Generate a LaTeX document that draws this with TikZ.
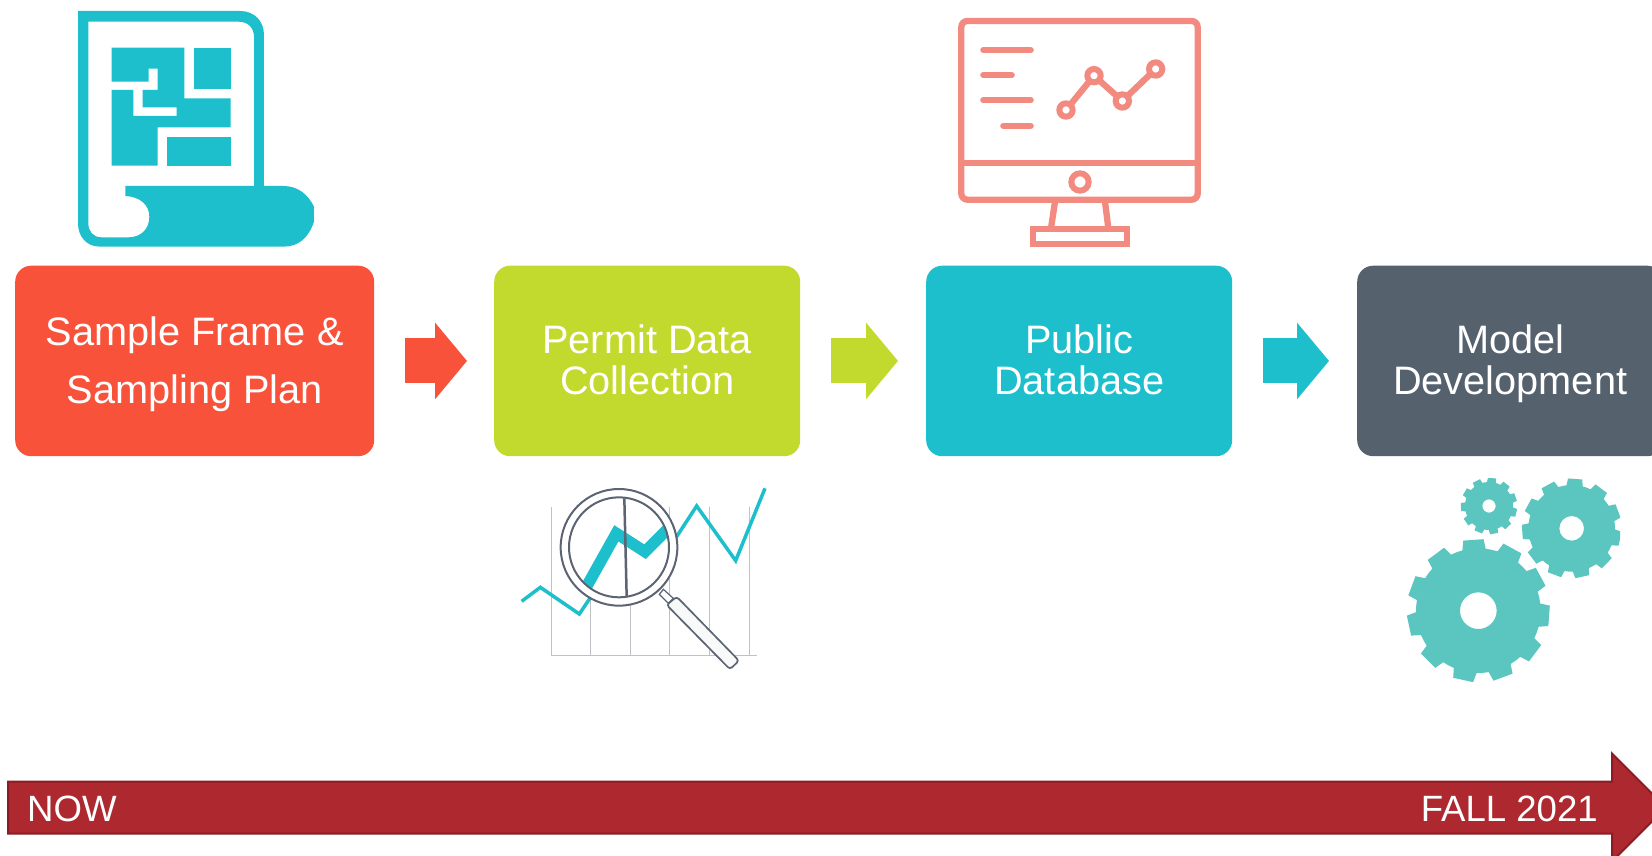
\documentclass[tikz,border=0pt]{standalone}
\usepackage{fontspec}
\setmainfont{Liberation Sans}
\usetikzlibrary{arrows.meta,calc}
\definecolor{cRed}{HTML}{F9523A}
\definecolor{cGreen}{HTML}{C2DA2E}
\definecolor{cTeal}{HTML}{1DBFCC}
\definecolor{cDark}{HTML}{56616E}
\definecolor{cSalmon}{HTML}{F28A80}
\definecolor{cGear}{HTML}{5BC6BF}
\definecolor{cBar}{HTML}{AE2830}
\definecolor{cBarEdge}{HTML}{8B1C24}
\definecolor{cGrid}{HTML}{BFC3C8}
\definecolor{cLens}{HTML}{5B6472}
\newcommand{\hiStrut}{\rule{0pt}{37pt}}
\newcommand{\loStrut}{\rule[-10pt]{0pt}{10pt}}
\tikzset{
  stage/.style={rounded corners=16pt,inner sep=0pt,minimum height=190.5pt,
    text=white,align=center,anchor=north west},
  flow/.style={line width=45pt,-{Triangle[length=32pt,width=75pt]},shorten <=31pt,shorten >=28pt},
  barlabel/.style={text=white,inner sep=0pt,font=\fontsize{36.6}{40}\selectfont},
  icon/.style={x=0.33333pt,y=-0.33333pt},
  mon/.style={draw=cSalmon,line width=6.3pt,line cap=round},
}
\begin{document}
\begin{tikzpicture}[x=1pt,y=-1pt]
\useasboundingbox (0,0) rectangle (1652,856);
\fill[white] (0,0) rectangle (1652,856);
\begin{scope}
\clip (0,0) rectangle (1652,856);
% stage boxes
\node[stage,fill=cRed,minimum width=359pt,font=\fontsize{39.7}{58}\selectfont] (a) at (15,265.5) {\hiStrut Sample Frame \&\\Sampling Plan\loStrut};
\node[stage,fill=cGreen,minimum width=306pt,font=\fontsize{39.7}{41}\selectfont] (b) at (494,265.5) {\hiStrut Permit Data\\Collection\loStrut};
\node[stage,fill=cTeal,minimum width=306pt,font=\fontsize{39.7}{41}\selectfont] (c) at (926,265.5) {\hiStrut Public\\Database\loStrut};
\node[stage,fill=cDark,minimum width=306pt,font=\fontsize{39.7}{41}\selectfont] (d) at (1357,265.5) {\hiStrut Model\\Development\loStrut};
% block arrows
\draw[flow,cRed,shorten >=27pt] (a.east) -- (b.west);
\draw[flow,cGreen] (b.east) -- (c.west);
\draw[flow,cTeal] (c.east) -- (d.west);
% timeline
\draw[fill=cBar,draw=cBarEdge,line width=2pt] (8,781.5) -- (1612,781.5) -- (1612,753.5) -- (1666,807.5) -- (1612,861.5) -- (1612,833.5) -- (8,833.5) -- cycle;
\node[barlabel,anchor=west] (now) at (27,809) {NOW};
\node[barlabel,anchor=east] (fall) at (1598,809) {FALL 2021};
% document icon
\begin{scope}[icon,shift={(60pt,0pt)}]
\fill[cTeal,even odd rule]
 (54,33) -- (540,33) .. controls (585,33) and (612,65) .. (612,105) -- (612,558) -- (670,558)
 .. controls (715,558) and (745,585) .. (762,620) -- (762,665) .. controls (745,715) and (715,740) .. (670,740)
 -- (120,740) .. controls (80,740) and (54,710) .. (54,670) -- cycle
 (85,65) -- (535,65) .. controls (565,65) and (582,85) .. (582,110) -- (582,558) -- (196,558) -- (196,588)
 .. controls (240,590) and (268,615) .. (268,650) .. controls (268,690) and (240,712) .. (205,712)
 -- (125,712) .. controls (100,712) and (85,695) .. (85,670) -- cycle;
\fill[cTeal] (155,143) -- (373,143) -- (373,295) -- (512,295) -- (512,382) -- (293,382) -- (293,497) -- (155,497)
 -- (155,270) -- (220,270) -- (220,348) -- (350,348) -- (350,322) -- (248,322) -- (248,270) -- (293,270)
 -- (293,206) -- (266,206) -- (266,245) -- (155,245) -- cycle;
\fill[cTeal] (401,143) rectangle (512,268);
\fill[cTeal] (320,410) rectangle (512,497);
\end{scope}
% monitor icon
\begin{scope}[icon,shift={(940pt,0pt)}]
\clip (0,0) rectangle (790,740);
\draw[mon,rounded corners=6pt] (64,63) rectangle (773,599);
\draw[mon] (64,489) -- (773,489);
\draw[mon] (130,150) -- (272,150) (130,225) -- (215,225) (130,301) -- (272,301) (190,377) -- (272,377);
\draw[mon] (378,330) -- (462,227) -- (547,303) -- (647,207);
\foreach \p in {(378,330),(462,227),(547,303),(647,207)}
  \draw[draw=cSalmon,fill=white,line width=6pt] \p circle[radius=20];
\draw[draw=cSalmon,line width=6pt] (420,546) circle[radius=26];
\draw[mon,line cap=butt] (345,605) -- (333,685) (495,605) -- (505,685);
\draw[draw=cSalmon,line width=6pt] (278,688) rectangle (562,733);
\end{scope}
% magnifier icon
\begin{scope}[icon,shift={(500pt,-470pt)}]
\foreach \gx in {153,272,390,509,629,748}
  \draw[cGrid,line width=1pt] (\gx,110) -- (\gx,557);
\draw[cGrid,line width=1pt] (153,557) -- (772,557);
\draw[cTeal,line width=3.5pt,line join=miter] (65,394) -- (121,352) -- (238,432) -- (300,340) (520,215) -- (590,108) -- (707,272) -- (795,55);
\draw[cLens,line width=2pt,fill=white] (357,232) circle[radius=175];
\begin{scope}
\clip (357,232) circle[radius=150];
\fill[white] (357,232) circle[radius=150];
\draw[cTeal,line width=11.5pt,line join=miter] (255,358) -- (349,190) -- (435,245) -- (505,175);
\end{scope}
\draw[cLens,line width=2pt] (357,232) circle[radius=150];
\draw[cLens,line width=2.5pt] (373,85) -- (380,380);
\draw[cLens,line width=1.2pt,fill=white] (478,373) -- (490,358) -- (520,385) -- (505,400) -- cycle;
\draw[cLens,line width=1.7pt,fill=white!96!cLens,rounded corners=3pt] (500,405) -- (530,380) -- (717,572) -- (690,598) -- cycle;
\end{scope}
% gears
\begin{scope}[icon,shift={(1390pt,-465pt)}]
\clip (0,40) rectangle (690,648);
\foreach \cx/\cy/\ro/\rr/\rh/\n/\ph in {265/437/215/187/55/11/-94, 545/190/150/130/37/11/-86, 297/123/85/72/20/11/-84}{
  \pgfmathsetmacro{\stp}{360/\n}
  \fill[cGear,even odd rule] (\cx,\cy) circle[radius=\rh]
    ($(\cx,\cy)+(\ph-0.33*\stp:\rr)$)
    \foreach \k in {1,...,\n}{
      -- ($(\cx,\cy)+(\ph+\k*\stp-\stp-0.33*\stp:\rr)$)
      -- ($(\cx,\cy)+(\ph+\k*\stp-\stp-0.25*\stp:\ro)$)
      -- ($(\cx,\cy)+(\ph+\k*\stp-\stp+0.25*\stp:\ro)$)
      -- ($(\cx,\cy)+(\ph+\k*\stp-\stp+0.33*\stp:\rr)$)
      -- ($(\cx,\cy)+(\ph+\k*\stp-\stp+0.5*\stp:\rr)$)
    } -- cycle;
}
\end{scope}
\end{scope}
\end{tikzpicture}
\end{document}
